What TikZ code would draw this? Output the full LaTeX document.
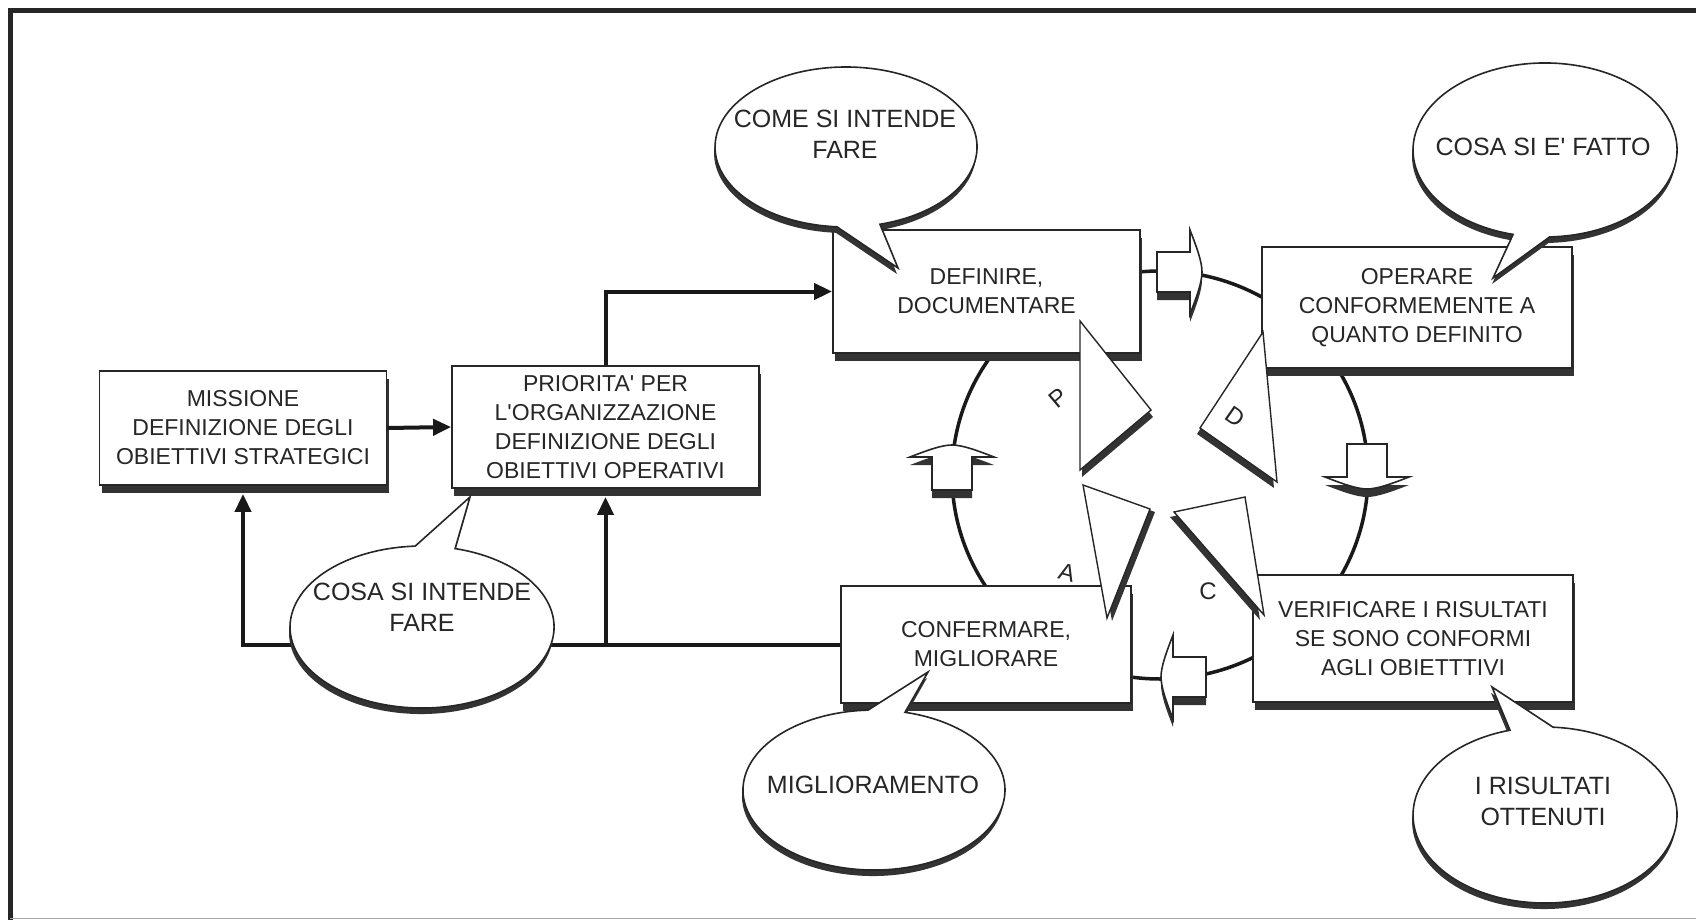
\documentclass[tikz,border=0pt]{standalone}
\usepackage{fontspec}
\newfontfamily\arialf{Liberation Sans}
\usetikzlibrary{arrows.meta,shadows}
\newcommand\bubOne{(836.9,226.8) arc[start angle=94, end angle=435, x radius=131, y radius=80] -- (898,268) -- cycle}
\newcommand\bubTwo{(1513.1,234.4) arc[start angle=104, end angle=448, x radius=132, y radius=87] -- (1493,278) -- cycle}
\newcommand\bubThree{(455.1,548.6) arc[start angle=284.5, end angle=627, x radius=132, y radius=81] -- (470,497) -- cycle}
\newcommand\bubFour{(905.0,712.3) arc[start angle=283.7, end angle=627.4, x radius=131, y radius=80] -- (928,672) -- cycle}
\newcommand\bubFive{(1553.1,727.2) arc[start angle=273.5, end angle=614.6, x radius=132, y radius=88] -- (1492,687) -- cycle}
\newcommand\barrowp{(-33,-20) -- (0,-20) -- (0,-42) .. controls (7,-24) and (12,-10) .. (12,0) .. controls (12,10) and (7,24) .. (0,42) -- (0,20) -- (-33,20) -- cycle}
\newcommand\triP{(1080,321) -- (1151,410) -- (1080,470) -- cycle}
\newcommand\triD{(1263,332) -- (1200,428) -- (1277,482) -- cycle}
\newcommand\triA{(1083,485) -- (1150,509) -- (1107,618) -- cycle}
\newcommand\triC{(1174,512) -- (1245,497) -- (1264,615) -- cycle}
\begin{document}
\begin{tikzpicture}[x=1pt,y=-1pt,
  box/.style={draw=black!85, line width=1.8pt, fill=white, inner sep=0pt, align=center, text=black!85,
    font=\arialf\fontsize{23}{29}\selectfont,
    drop shadow={shadow xshift=2pt, shadow yshift=-8pt, fill=black!80, opacity=1}},
  btext/.style={inner sep=0pt, align=center, text=black!85, font=\arialf\fontsize{25}{31}\selectfont},
  conn/.style={line width=4pt, draw=black!90, -{Triangle[length=18pt,width=16pt]}},
  cyc/.style={line width=3.5pt, draw=black!90},
  shad/.style={fill=black!80},
  bub/.style={draw=black!85, line width=1.6pt, fill=white},
  tri/.style={draw=black!85, line width=1.4pt, fill=white, line join=miter},
  barrow/.style={draw=black!85, line width=1.6pt, fill=white},
  pdcal/.style={inner sep=0pt, text=black!85, font=\arialf\fontsize{24}{24}\selectfont}
]
\useasboundingbox (0,0) rectangle (1696,920);
% frame
\draw[line width=4.5pt, black!85] (10.5,920) -- (10.5,10.5) -- (1696,10.5);
\draw[line width=1.2pt, black!35] (10,918.5) -- (1696,918.5);
% cycle
\coordinate (ctr) at (1160,475);
\draw[cyc] (ctr) ellipse[x radius=208, y radius=204];
% boxes
\node[box, minimum width=287pt, minimum height=114pt] (miss) at (243,428) {MISSIONE\\DEFINIZIONE DEGLI\\OBIETTIVI STRATEGICI};
\node[box, minimum width=307pt, minimum height=122pt] (prio) at (605.5,427) {PRIORITA' PER\\L'ORGANIZZAZIONE\\DEFINIZIONE DEGLI\\OBIETTIVI OPERATIVI};
\node[box, minimum width=307pt, minimum height=123pt] (defn) at (986.5,291.5) {DEFINIRE,\\DOCUMENTARE};
\node[box, minimum width=310pt, minimum height=121pt] (oper) at (1417,307.5) {OPERARE\\CONFORMEMENTE A\\QUANTO DEFINITO};
\node[box, minimum width=320pt, minimum height=127pt] (veri) at (1413,638.5) {VERIFICARE I RISULTATI\\SE SONO CONFORMI\\AGLI OBIETTTIVI};
\node[box, minimum width=290pt, minimum height=117pt] (conf) at (986,644.5) {CONFERMARE,\\MIGLIORARE};
% connectors
\draw[conn] (miss.east) -- (prio.west);
\draw[conn] (prio.north) |- (defn.west);
\draw[conn] (conf.west) -| ([yshift=-8pt]miss.south);
\draw[conn] (conf.west -| prio.south) -- ([yshift=-8pt]prio.south);
% block arrows on the cycle
\begin{scope}[shift={(1190,280)}] \fill[shad] \barrowp; \end{scope}
\begin{scope}[shift={(1190,272)}] \draw[barrow] \barrowp; \end{scope}
\begin{scope}[shift={(1367,485)}, rotate=-90] \fill[shad] \barrowp; \end{scope}
\begin{scope}[shift={(1367,477)}, rotate=-90] \draw[barrow] \barrowp; \end{scope}
\begin{scope}[shift={(1173,685)}, rotate=180] \fill[shad] \barrowp; \end{scope}
\begin{scope}[shift={(1173,677)}, rotate=180] \draw[barrow] \barrowp; \end{scope}
\begin{scope}[shift={(952,465)}, rotate=90] \fill[shad] \barrowp; \end{scope}
\begin{scope}[shift={(952,457)}, rotate=90] \draw[barrow] \barrowp; \end{scope}
% PDCA triangles
\fill[shad, shift={(2,7)}] \triP; \draw[tri] \triP;
\fill[shad, shift={(-3,6)}] \triD; \draw[tri] \triD;
\fill[shad, shift={(5,3)}] \triA; \draw[tri] \triA;
\fill[shad, shift={(-4,5)}] \triC; \draw[tri] \triC;
\node[pdcal, rotate=40] (lp) at (1058,398) {P};
\node[pdcal, rotate=-35] (ld) at (1235,417) {D};
\node[pdcal, rotate=-15] (la) at (1067,573) {A};
\node[pdcal] (lc) at (1208,591) {C};
% speech bubbles
\fill[shad, shift={(-1,6)}] \bubOne; \draw[bub] \bubOne;
\fill[shad, shift={(-1,6)}] \bubTwo; \draw[bub] \bubTwo;
\fill[shad, shift={(-1,6)}] \bubThree; \draw[bub] \bubThree;
\fill[shad, shift={(-1,6)}] \bubFour; \draw[bub] \bubFour;
\fill[shad, shift={(-1,6)}] \bubFive; \draw[bub] \bubFive;
\node[btext] (t1) at (845,134) {COME SI INTENDE\\FARE};
\node[btext] (t2) at (1543,147) {COSA SI E' FATTO};
\node[btext] (t3) at (422,607) {COSA SI INTENDE\\FARE};
\node[btext] (t4) at (873,785) {MIGLIORAMENTO};
\node[btext] (t5) at (1543,801) {I RISULTATI\\OTTENUTI};
\end{tikzpicture}
\end{document}
